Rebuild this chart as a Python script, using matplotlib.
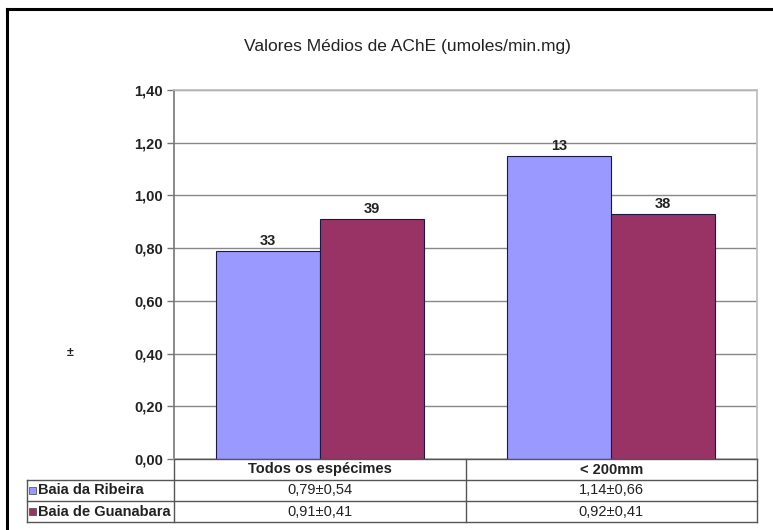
import matplotlib
matplotlib.use("Agg")
import matplotlib.pyplot as plt
from matplotlib.lines import Line2D
from matplotlib.patches import Rectangle
import matplotlib.transforms as mtransforms
import numpy as np

plt.rcParams['font.family'] = ['Liberation Sans', 'DejaVu Sans']

title = "Valores Médios de AChE (umoles/min.mg)"
categories = ["Todos os espécimes", "< 200mm"]
series_names = ["Baia da Ribeira", "Baia de Guanabara"]
ribeira_means = [0.79, 1.15]
guanabara_means = [0.91, 0.93]
ribeira_n = ["33", "13"]
guanabara_n = ["39", "38"]
ribeira_table = ["0,79±0,54", "1,14±0,66"]
guanabara_table = ["0,91±0,41", "0,92±0,41"]
yticks = [0.0, 0.2, 0.4, 0.6, 0.8, 1.0, 1.2, 1.4]
ytick_labels = ["0,00", "0,20", "0,40", "0,60", "0,80", "1,00", "1,20", "1,40"]

colors = ["#9999FF", "#993366"]
W, H = 773, 530
fig = plt.figure(figsize=(W / 100, H / 100), dpi=100)

def fx(px):
    return px / W

def fy(py):
    return 1 - py / H

ax_l, ax_r, ax_t, ax_b = 174, 757, 90, 459
ax = fig.add_axes([fx(ax_l), fy(ax_b), fx(ax_r) - fx(ax_l), fy(ax_t) - fy(ax_b)])

x = np.arange(len(categories))
w = 0.357
series = [(ribeira_means, ribeira_n), (guanabara_means, guanabara_n)]
for k, (vals, ns) in enumerate(series):
    offs = (k - 0.5) * w
    ax.bar(x + offs, vals, width=w, color=colors[k], edgecolor="#1a1a40",
           linewidth=0.8, zorder=3)
    for xi, v, n in zip(x + offs, vals, ns):
        ax.text(xi, v + 0.012, n, ha="center", va="bottom", fontsize=10.5,
                fontweight="bold", color="#222222", zorder=2)

ax.set_xlim(-0.5, len(categories) - 0.5)
ax.set_ylim(0, 1.4)
ax.set_yticks(yticks)
ax.set_yticklabels(ytick_labels, fontsize=10.5, fontweight="bold", color="#222222")
ax.set_xticks([])
ax.yaxis.grid(True, color="#888888", linewidth=1.0, zorder=1)
ax.set_axisbelow(True)
for side in ["top", "right", "bottom"]:
    ax.spines[side].set_color("#bbbbbb")
    ax.spines[side].set_linewidth(1.2)
ax.spines["left"].set_color("#777777")
ax.spines["left"].set_linewidth(1.2)
ax.tick_params(axis="y", length=5, width=1.0, color="#777777", pad=3)

# Title
fig.text(fx(407), fy(47), title, ha="center", va="center", fontsize=12.5, color="#222222")

# Stray ± sign
fig.text(fx(70), fy(353), "±", ha="center", va="center", fontsize=9, fontweight="bold",
         color="#222222")

# Data table below axes
tr = mtransforms.blended_transform_factory(ax.transData, fig.transFigure)
row_y = [459, 480, 501, 522]
tbl_left = 27
line_col = "#555555"
for i, ry in enumerate(row_y):
    x0 = ax_l if i == 0 else tbl_left
    fig.add_artist(Line2D([fx(x0), fx(ax_r)], [fy(ry), fy(ry)], color=line_col, lw=1.0))
fig.add_artist(Line2D([fx(tbl_left), fx(tbl_left)], [fy(row_y[1]), fy(row_y[3])], color=line_col, lw=1.0))
fig.add_artist(Line2D([fx(ax_l), fx(ax_l)], [fy(row_y[0]), fy(row_y[3])], color=line_col, lw=1.0))
fig.add_artist(Line2D([fx(ax_r), fx(ax_r)], [fy(row_y[0]), fy(row_y[3])], color=line_col, lw=1.0))
for b in np.arange(0.5, len(categories) - 0.5, 1.0):
    fig.add_artist(Line2D([b, b], [fy(row_y[0]), fy(row_y[3])], color=line_col, lw=1.0,
                          transform=tr))

def rowc(i):
    return fy((row_y[i] + row_y[i + 1]) / 2)

for xi, c in zip(x, categories):
    fig.text(xi, rowc(0), c, transform=tr, ha="center", va="center", fontsize=10.5,
             fontweight="bold", color="#222222")
for r, (name, cells) in enumerate(zip(series_names, [ribeira_table, guanabara_table])):
    yc = rowc(r + 1)
    fig.add_artist(Rectangle((fx(29), yc - 3.5 / H), 7 / W, 7 / H, facecolor=colors[r],
                             edgecolor="#444444", lw=0.5, transform=fig.transFigure))
    fig.text(fx(38), yc, name, ha="left", va="center", fontsize=10.5, fontweight="bold",
             color="#222222")
    for xi, c in zip(x, cells):
        fig.text(xi, yc, c, transform=tr, ha="center", va="center", fontsize=10.5,
                 color="#222222")

# Outer frame (left and top visible)
fig.add_artist(Line2D([fx(7), fx(7)], [fy(9), 0], color="black", lw=2.2))
fig.add_artist(Line2D([fx(7), 1], [fy(9), fy(9)], color="black", lw=2.2))

fig.savefig("out.png", dpi=100)
